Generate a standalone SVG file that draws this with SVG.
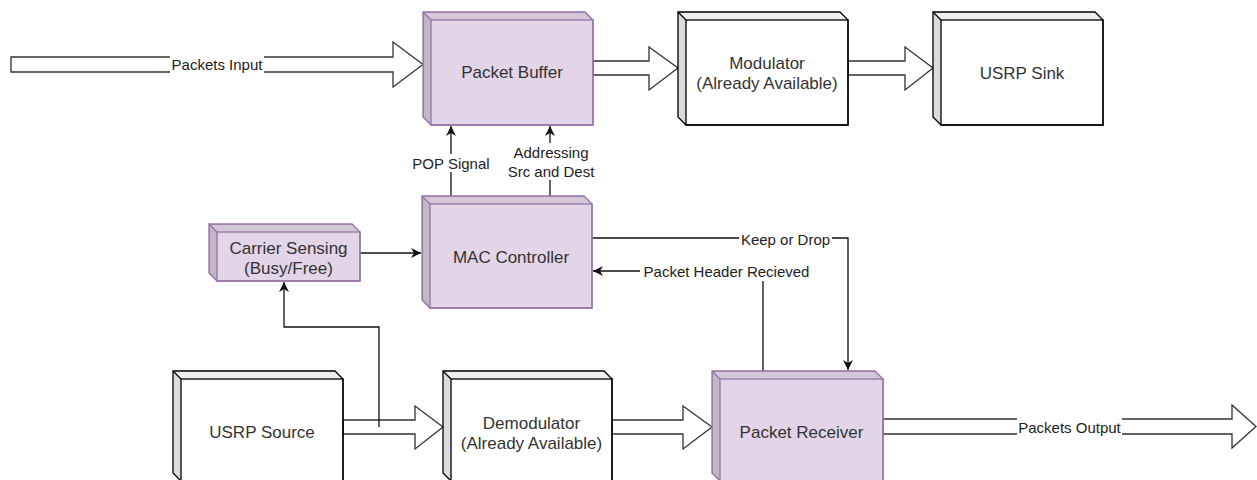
<svg xmlns="http://www.w3.org/2000/svg" width="1257" height="480" viewBox="0 0 1257 480">
  <style>
    .bg { fill: #ffffff; }
    .front-p { fill: #e1d5e7; stroke: #9673a6; stroke-width: 1.3; }
    .front-w { fill: #ffffff; stroke: #000000; stroke-width: 1.3; }
    .top { fill: #000000; fill-opacity: 0.06; stroke: none; }
    .left { fill: #000000; fill-opacity: 0.14; stroke: none; }
    .edge-p { fill: none; stroke: #9673a6; stroke-width: 1.3; }
    .edge-w { fill: none; stroke: #000000; stroke-width: 1.3; }
    .txt { font-family: "Liberation Sans", Arial, sans-serif; font-size: 17px; fill: #333333; text-anchor: middle; dominant-baseline: central; }
    .lbl { font-family: "Liberation Sans", Arial, sans-serif; font-size: 15px; fill: #222222; text-anchor: middle; dominant-baseline: central; }
    .lbl-bg { fill: #ffffff; }
    .blk { fill: #ffffff; stroke: #333333; stroke-width: 1.3; stroke-linejoin: miter; }
    .wire { fill: none; stroke: #111111; stroke-width: 1.3; }
  </style>
  <defs>
    <marker id="tip" markerUnits="userSpaceOnUse" markerWidth="10" markerHeight="10" refX="10" refY="5" orient="auto">
      <path d="M0,0 L10,5 L0,10 L3,5 z" fill="#111111"/>
    </marker>
  </defs>

  <rect class="bg" x="0" y="0" width="1257" height="480"/>

  <!-- connectors -->
  <g id="connectors">
    <!-- block arrows -->
    <polygon class="blk" points="11,57 393,57 393,42 423,64.5 393,87 393,72 11,72"/>
    <rect class="lbl-bg" x="170" y="56" width="94" height="17"/>
    <text class="lbl" x="217" y="64.5">Packets Input</text>

    <polygon class="blk" points="593,61 649,61 649,47 678,68 649,90 649,75 593,75"/>
    <polygon class="blk" points="848,61 905,61 905,47 933,68 905,90 905,75 848,75"/>
    <polygon class="blk" points="343,420 415,420 415,406 443,427 415,449 415,434 343,434"/>
    <polygon class="blk" points="612,420 683,420 683,406 712,427 683,449 683,434 612,434"/>

    <polygon class="blk" points="883,419 1232,419 1232,405 1256,426.5 1232,448 1232,434 883,434"/>
    <rect class="lbl-bg" x="1017" y="418" width="105" height="17"/>
    <text class="lbl" x="1069.5" y="427">Packets Output</text>

    <!-- signal lines -->
    <path class="wire" d="M451,196 L451,126" marker-end="url(#tip)"/>
    <rect class="lbl-bg" x="411" y="154" width="80" height="18"/>
    <text class="lbl" x="451" y="163">POP Signal</text>

    <path class="wire" d="M550,196 L550,126" marker-end="url(#tip)"/>
    <rect class="lbl-bg" x="506" y="143" width="90" height="37"/>
    <text class="lbl" x="551" y="152">Addressing</text>
    <text class="lbl" x="551" y="171">Src and Dest</text>

    <path class="wire" d="M360,253 L421,253" marker-end="url(#tip)"/>

    <path class="wire" d="M379,427 L379,327 L284,327 L284,282" marker-end="url(#tip)"/>

    <path class="wire" d="M592,238 L848,238 L848,370" marker-end="url(#tip)"/>
    <rect class="lbl-bg" x="739" y="230" width="93" height="18"/>
    <text class="lbl" x="785.5" y="239">Keep or Drop</text>

    <path class="wire" d="M763,371 L763,271 L593,271" marker-end="url(#tip)"/>
    <rect class="lbl-bg" x="640" y="262" width="173" height="19"/>
    <text class="lbl" x="726.5" y="271">Packet Header Recieved</text>
  </g>

  <!-- Packet Buffer -->
  <g id="packet-buffer">
    <polygon class="front-p" points="423,12 585,12 593,20 593,125 431,125 423,117"/>
    <polygon class="top" points="423,12 585,12 593,20 431,20"/>
    <polygon class="left" points="423,12 431,20 431,125 423,117"/>
    <rect class="edge-p" x="431" y="20" width="162" height="105"/>
    <line class="edge-p" x1="423" y1="12" x2="431" y2="20"/>
    <text class="txt" x="512" y="72.5">Packet Buffer</text>
  </g>

  <!-- Modulator -->
  <g id="modulator">
    <polygon class="front-w" points="678,12 840,12 848,20 848,125 686,125 678,117"/>
    <polygon class="top" points="678,12 840,12 848,20 686,20"/>
    <polygon class="left" points="678,12 686,20 686,125 678,117"/>
    <rect class="edge-w" x="686" y="20" width="162" height="105"/>
    <line class="edge-w" x1="678" y1="12" x2="686" y2="20"/>
    <text class="txt" x="767" y="63">Modulator</text>
    <text class="txt" x="767" y="83">(Already Available)</text>
  </g>

  <!-- USRP Sink -->
  <g id="usrp-sink">
    <polygon class="front-w" points="933,12 1095,12 1103,20 1103,125 941,125 933,117"/>
    <polygon class="top" points="933,12 1095,12 1103,20 941,20"/>
    <polygon class="left" points="933,12 941,20 941,125 933,117"/>
    <rect class="edge-w" x="941" y="20" width="162" height="105"/>
    <line class="edge-w" x1="933" y1="12" x2="941" y2="20"/>
    <text class="txt" x="1022" y="73">USRP Sink</text>
  </g>

  <!-- MAC Controller -->
  <g id="mac-controller">
    <polygon class="front-p" points="422,196 584,196 592,204 592,308 430,308 422,300"/>
    <polygon class="top" points="422,196 584,196 592,204 430,204"/>
    <polygon class="left" points="422,196 430,204 430,308 422,300"/>
    <rect class="edge-p" x="430" y="204" width="162" height="104"/>
    <line class="edge-p" x1="422" y1="196" x2="430" y2="204"/>
    <text class="txt" x="511" y="257">MAC Controller</text>
  </g>

  <!-- Carrier Sensing -->
  <g id="carrier-sensing">
    <polygon class="front-p" points="209,224 352,224 360,232 360,281 217,281 209,273"/>
    <polygon class="top" points="209,224 352,224 360,232 217,232"/>
    <polygon class="left" points="209,224 217,232 217,281 209,273"/>
    <rect class="edge-p" x="217" y="232" width="143" height="49"/>
    <line class="edge-p" x1="209" y1="224" x2="217" y2="232"/>
    <text class="txt" x="288.5" y="248">Carrier Sensing</text>
    <text class="txt" x="288.5" y="268">(Busy/Free)</text>
  </g>

  <!-- USRP Source -->
  <g id="usrp-source">
    <polygon class="front-w" points="173,371 335,371 343,379 343,481 181,481 173,473"/>
    <polygon class="top" points="173,371 335,371 343,379 181,379"/>
    <polygon class="left" points="173,371 181,379 181,481 173,473"/>
    <rect class="edge-w" x="181" y="379" width="162" height="102"/>
    <line class="edge-w" x1="173" y1="371" x2="181" y2="379"/>
    <text class="txt" x="262" y="432">USRP Source</text>
  </g>

  <!-- Demodulator -->
  <g id="demodulator">
    <polygon class="front-w" points="443,371 604,371 612,379 612,481 451,481 443,473"/>
    <polygon class="top" points="443,371 604,371 612,379 451,379"/>
    <polygon class="left" points="443,371 451,379 451,481 443,473"/>
    <rect class="edge-w" x="451" y="379" width="161" height="102"/>
    <line class="edge-w" x1="443" y1="371" x2="451" y2="379"/>
    <text class="txt" x="531.5" y="423">Demodulator</text>
    <text class="txt" x="531.5" y="443">(Already Available)</text>
  </g>

  <!-- Packet Receiver -->
  <g id="packet-receiver">
    <polygon class="front-p" points="712,371 875,371 883,379 883,481 720,481 712,473"/>
    <polygon class="top" points="712,371 875,371 883,379 720,379"/>
    <polygon class="left" points="712,371 720,379 720,481 712,473"/>
    <rect class="edge-p" x="720" y="379" width="163" height="102"/>
    <line class="edge-p" x1="712" y1="371" x2="720" y2="379"/>
    <text class="txt" x="801.5" y="432">Packet Receiver</text>
  </g>
</svg>
